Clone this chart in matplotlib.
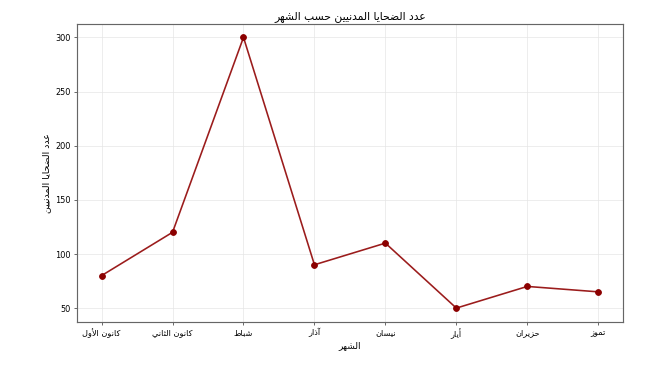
import matplotlib
matplotlib.use("Agg")
import matplotlib.pyplot as plt

months = ["كانون الأول", "كانون الثاني", "شباط", "آذار", "نيسان", "أيار", "حزيران", "تموز"]
casualties = [80, 120, 300, 90, 110, 50, 70, 65]
title = "عدد الضحايا المدنيين حسب الشهر"
xlabel = "الشهر"
ylabel = "عدد الضحايا المدنيين"

# Minimal Arabic shaping (presentation forms) + visual reordering
FORMS = {
    'ء': (0xFE80, None, None, None),
    'آ': (0xFE81, 0xFE82, None, None),
    'أ': (0xFE83, 0xFE84, None, None),
    'ؤ': (0xFE85, 0xFE86, None, None),
    'إ': (0xFE87, 0xFE88, None, None),
    'ئ': (0xFE89, 0xFE8A, 0xFE8B, 0xFE8C),
    'ا': (0xFE8D, 0xFE8E, None, None),
    'ب': (0xFE8F, 0xFE90, 0xFE91, 0xFE92),
    'ة': (0xFE93, 0xFE94, None, None),
    'ت': (0xFE95, 0xFE96, 0xFE97, 0xFE98),
    'ث': (0xFE99, 0xFE9A, 0xFE9B, 0xFE9C),
    'ج': (0xFE9D, 0xFE9E, 0xFE9F, 0xFEA0),
    'ح': (0xFEA1, 0xFEA2, 0xFEA3, 0xFEA4),
    'خ': (0xFEA5, 0xFEA6, 0xFEA7, 0xFEA8),
    'د': (0xFEA9, 0xFEAA, None, None),
    'ذ': (0xFEAB, 0xFEAC, None, None),
    'ر': (0xFEAD, 0xFEAE, None, None),
    'ز': (0xFEAF, 0xFEB0, None, None),
    'س': (0xFEB1, 0xFEB2, 0xFEB3, 0xFEB4),
    'ش': (0xFEB5, 0xFEB6, 0xFEB7, 0xFEB8),
    'ص': (0xFEB9, 0xFEBA, 0xFEBB, 0xFEBC),
    'ض': (0xFEBD, 0xFEBE, 0xFEBF, 0xFEC0),
    'ط': (0xFEC1, 0xFEC2, 0xFEC3, 0xFEC4),
    'ظ': (0xFEC5, 0xFEC6, 0xFEC7, 0xFEC8),
    'ع': (0xFEC9, 0xFECA, 0xFECB, 0xFECC),
    'غ': (0xFECD, 0xFECE, 0xFECF, 0xFED0),
    'ف': (0xFED1, 0xFED2, 0xFED3, 0xFED4),
    'ق': (0xFED5, 0xFED6, 0xFED7, 0xFED8),
    'ك': (0xFED9, 0xFEDA, 0xFEDB, 0xFEDC),
    'ل': (0xFEDD, 0xFEDE, 0xFEDF, 0xFEE0),
    'م': (0xFEE1, 0xFEE2, 0xFEE3, 0xFEE4),
    'ن': (0xFEE5, 0xFEE6, 0xFEE7, 0xFEE8),
    'ه': (0xFEE9, 0xFEEA, 0xFEEB, 0xFEEC),
    'و': (0xFEED, 0xFEEE, None, None),
    'ى': (0xFEEF, 0xFEF0, None, None),
    'ي': (0xFEF1, 0xFEF2, 0xFEF3, 0xFEF4),
}
LAM_ALEF = {'آ': (0xFEF5, 0xFEF6), 'أ': (0xFEF7, 0xFEF8),
            'إ': (0xFEF9, 0xFEFA), 'ا': (0xFEFB, 0xFEFC)}


def dual(c):
    return c in FORMS and FORMS[c][2] is not None


def joins(c):
    return c in FORMS and FORMS[c][1] is not None


def shape(text):
    out = []
    chars = list(text)
    i = 0
    n = len(chars)
    while i < n:
        c = chars[i]
        if c not in FORMS:
            out.append(c)
            i += 1
            continue
        prev = chars[i - 1] if i > 0 else ''
        cp = dual(prev) and joins(c)
        if c == 'ل' and i + 1 < n and chars[i + 1] in LAM_ALEF:
            iso, fin = LAM_ALEF[chars[i + 1]]
            out.append(chr(fin if cp else iso))
            i += 2
            continue
        nxt = chars[i + 1] if i + 1 < n else ''
        cn = dual(c) and joins(nxt)
        iso, fin, ini, med = FORMS[c]
        if cp and cn:
            out.append(chr(med))
        elif cp:
            out.append(chr(fin))
        elif cn:
            out.append(chr(ini))
        else:
            out.append(chr(iso))
        i += 1
    return ''.join(out)[::-1]


plt.rcParams['font.family'] = ['DejaVu Sans']

fig, ax = plt.subplots(figsize=(10, 5.8), dpi=64.5)
x = list(range(len(months)))
ax.plot(x, casualties, color='#9b1c1c', linewidth=1.8, zorder=2)
ax.plot(x, casualties, linestyle='none', marker='o', markersize=6.5,
        color='#8b0000', zorder=3)
ax.set_xticks(x)
ax.set_xticklabels([shape(m) for m in months], fontsize=9)
ax.set_title(shape(title), fontsize=12, pad=6)
ax.set_xlabel(shape(xlabel), fontsize=10, labelpad=3)
ax.set_ylabel(shape(ylabel), fontsize=10.5)
ax.tick_params(axis='y', labelsize=9)
ax.tick_params(colors='#333333', labelcolor='black')
ax.grid(True, color='#e6e6e6', linewidth=0.8)
ax.set_axisbelow(True)
for s in ax.spines.values():
    s.set_color('#666666')
    s.set_linewidth(1.3)
fig.subplots_adjust(left=0.119, right=0.966, top=0.936, bottom=0.140)
fig.savefig('out.png', dpi=64.5)
